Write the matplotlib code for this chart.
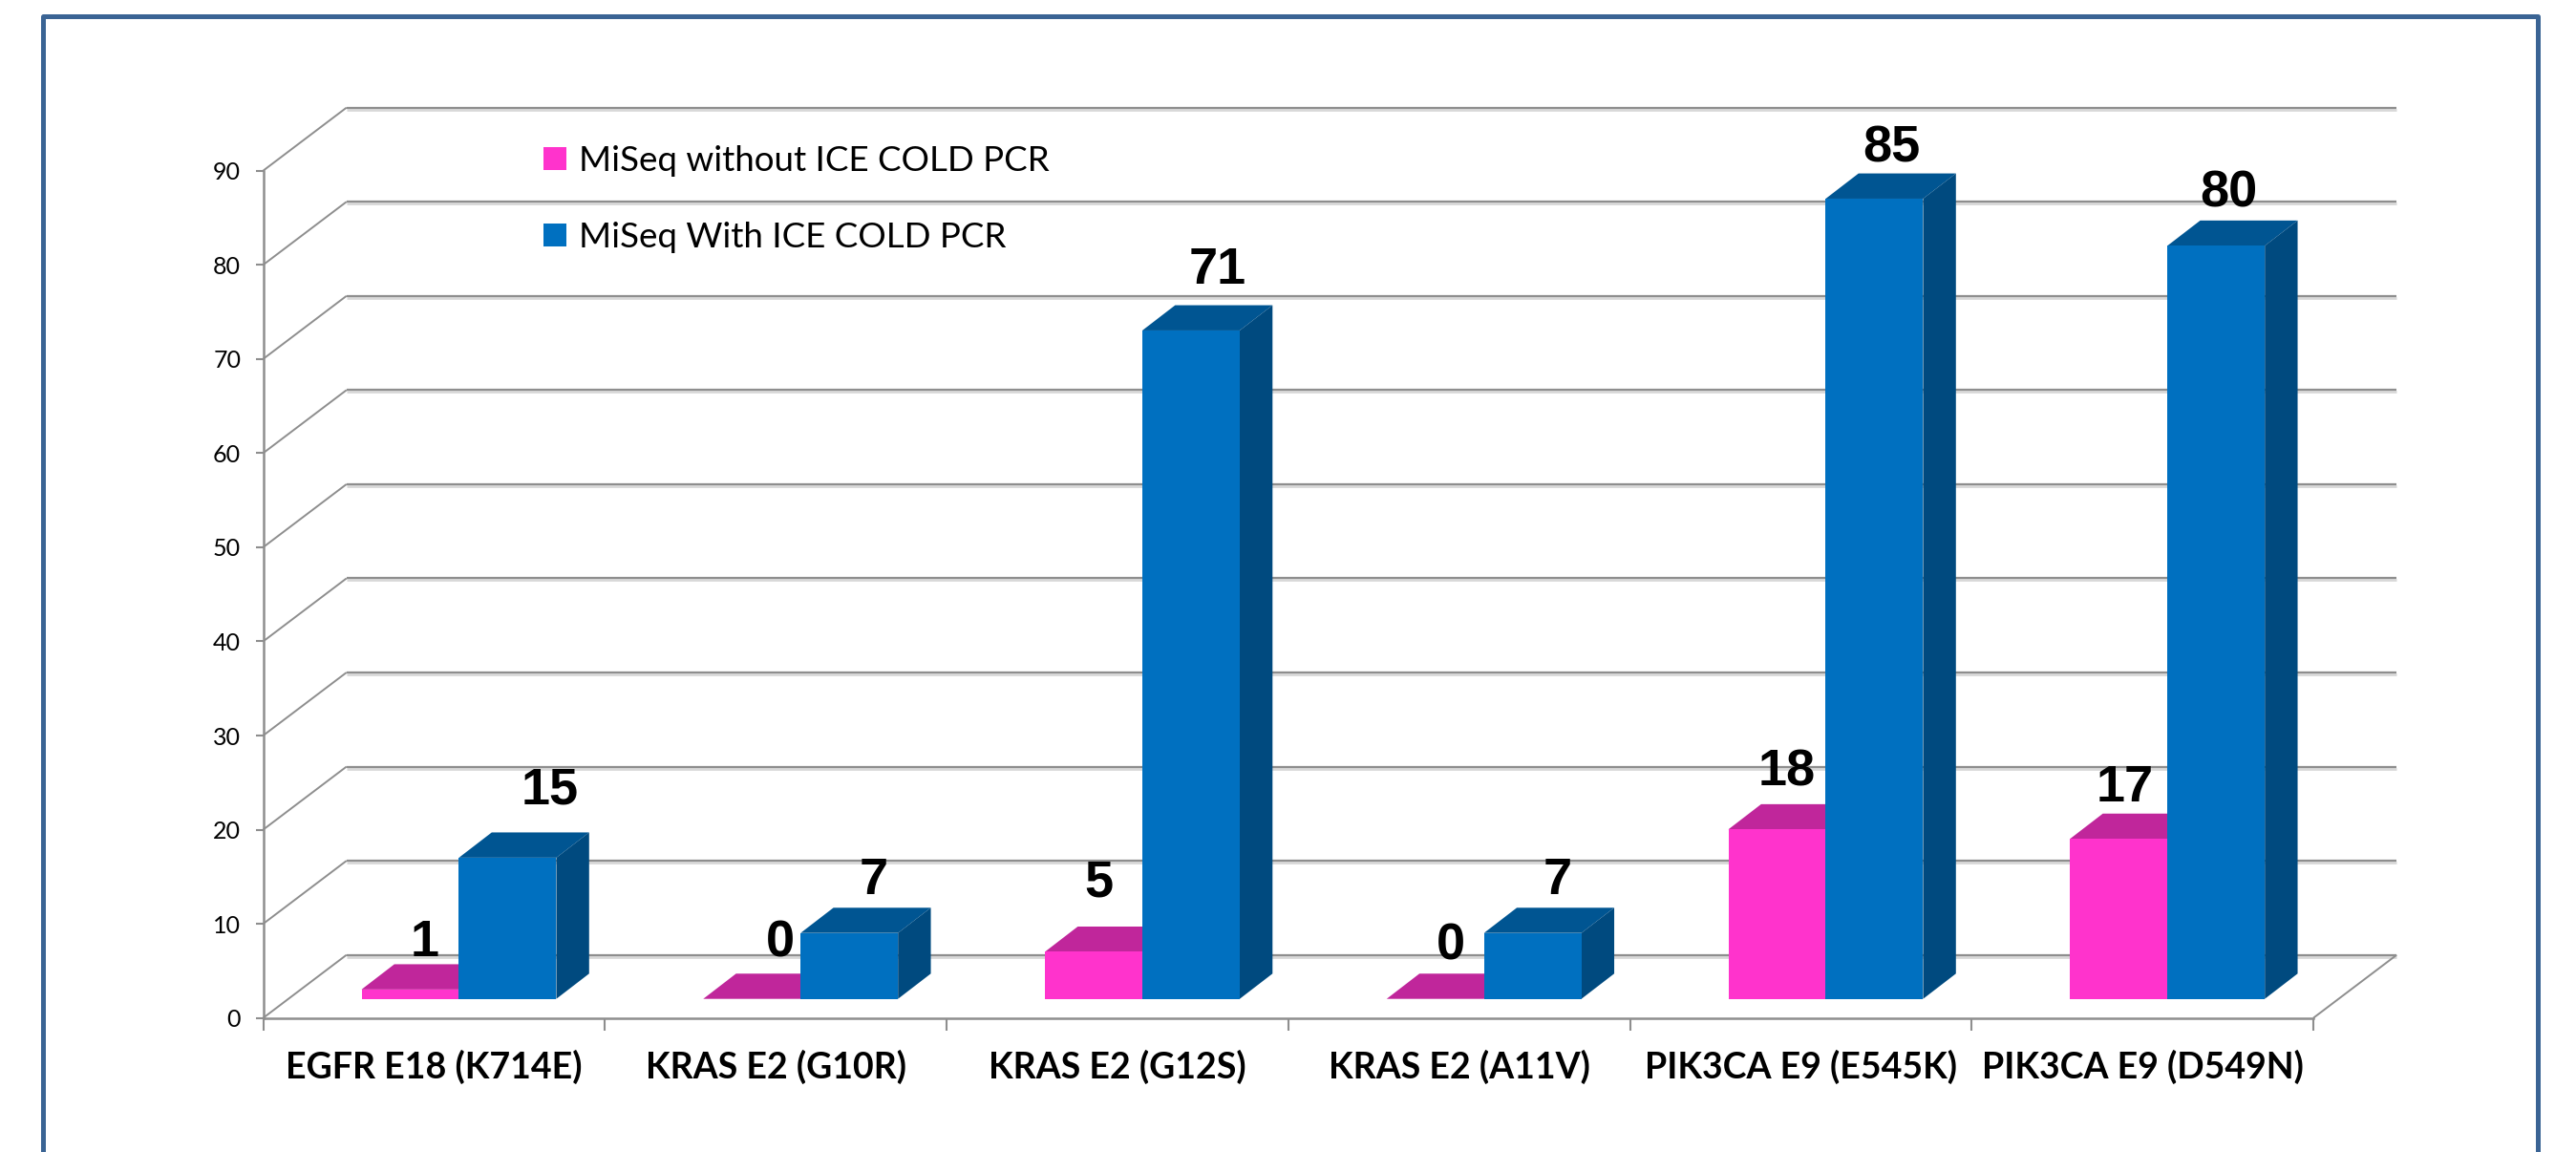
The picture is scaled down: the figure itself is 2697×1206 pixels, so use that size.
#!/usr/bin/env python
# -*- coding: utf-8 -*-
import matplotlib
matplotlib.use('Agg')
import matplotlib.pyplot as plt
from matplotlib.lines import Line2D
from matplotlib.patches import Patch

plt.rcParams['font.family'] = ['Lato', 'DejaVu Sans']

categories = ['EGFR E18 (K714E)', 'KRAS E2 (G10R)', 'KRAS E2 (G12S)',
              'KRAS E2 (A11V)', 'PIK3CA E9 (E545K)', 'PIK3CA E9 (D549N)']
without_ice = [1, 0, 5, 0, 18, 17]
with_ice = [15, 7, 71, 7, 85, 80]
y_ticks = [0, 10, 20, 30, 40, 50, 60, 70, 80, 90]

# hand placed data labels, pixels away from the default spot
without_nudge = [(-2, -6), (13, 4), (-12, 18), (-1, 1), (-7, 5), (-11, -1)]
with_nudge = [(27, 16), (8, 0), (11, 9), (9, 0), (1, -2), (-4, 0)]

# fake 3D geometry, x in category units and y in axis units
wall_dx, wall_dy = 0.244, 6.70
depth_dx, depth_dy = 0.096, 2.68
bar_start, bar_w = 0.288, 0.285
base = 2.03

grid_col = '#8e8e8e'
pink = ('#ff33cc', '#c0269b', '#a01f82')
blue = ('#0070c0', '#005592', '#004a7f')

W, H = 2697, 1206
fig = plt.figure(figsize=(W / 100, H / 100), dpi=100)
ax = fig.add_axes([275.5 / W, (H - 1065.7) / H, 2146.5 / W, 887 / H])
ax.set_xlim(0, len(categories))
ax.set_ylim(0, 90)
ax.patch.set_visible(False)


def line(xs, ys, lw=1.6, color=grid_col, z=1):
    ax.plot(xs, ys, color=color, lw=lw, clip_on=False, zorder=z, solid_capstyle='butt')


# back wall grid with the diagonals running down to the axis
n = len(categories)
for v in y_ticks:
    line([wall_dx, n + wall_dx], [v + wall_dy - 0.2] * 2, lw=2.0, color='#d8d8d8', z=0.5)
    line([wall_dx, n + wall_dx], [v + wall_dy] * 2)
    line([0, wall_dx], [v, v + wall_dy], lw=1.4)
line([n, n + wall_dx], [0, wall_dy], lw=1.4)


def bar3d(x, v, cols, z):
    y0, y1 = base, base + v
    ax.fill([x, x + bar_w, x + bar_w + depth_dx, x + depth_dx],
            [y1, y1, y1 + depth_dy, y1 + depth_dy], color=cols[1], lw=0, clip_on=False, zorder=z)
    ax.fill([x + bar_w, x + bar_w + depth_dx, x + bar_w + depth_dx, x + bar_w],
            [y0, y0 + depth_dy, y1 + depth_dy, y1], color=cols[2], lw=0, clip_on=False, zorder=z)
    ax.fill([x, x + bar_w, x + bar_w, x],
            [y0, y0, y1, y1], color=cols[0], lw=0, clip_on=False, zorder=z)


def value_label(x, v, nudge):
    ax.annotate(str(v), (x + bar_w / 2 + depth_dx / 2, base + v + depth_dy + 14 / 9.855),
                xytext=nudge, textcoords='offset pixels', ha='center', va='baseline',
                family='Liberation Sans', fontweight='bold', fontsize=39,
                color='black', zorder=10, annotation_clip=False)


for i in range(n):
    x_pink = i + bar_start
    x_blue = x_pink + bar_w
    bar3d(x_pink, without_ice[i], pink, 3 + i)
    bar3d(x_blue, with_ice[i], blue, 3.5 + i)
    value_label(x_pink, without_ice[i], without_nudge[i])
    value_label(x_blue, with_ice[i], with_nudge[i])

# axes
for s in ['top', 'right']:
    ax.spines[s].set_visible(False)
for s in ['left', 'bottom']:
    ax.spines[s].set_color(grid_col)
    ax.spines[s].set_linewidth(1.8)
ax.set_yticks(y_ticks)
ax.tick_params(axis='y', length=5.8, width=1.5, color=grid_col, pad=11, labelsize=18)
ax.set_xticks(range(n + 1))
ax.set_xticklabels([])
ax.set_xticks([i + 0.5 for i in range(n)], minor=True)
ax.set_xticklabels(categories, minor=True, fontweight='bold', fontsize=27)
ax.tick_params(axis='x', which='major', length=9.4, width=1.5, color=grid_col)
ax.tick_params(axis='x', which='minor', length=0, pad=24)

handles = [Patch(color=pink[0], lw=0), Patch(color=blue[0], lw=0)]
ax.legend(handles, ['MiSeq without ICE COLD PCR', 'MiSeq With ICE COLD PCR'],
          loc='upper left', bbox_to_anchor=(569 / W, 1 - 152 / H), bbox_transform=fig.transFigure,
          frameon=False, fontsize=26.5, handlelength=0.65, handleheight=0.65,
          handletextpad=0.35, labelspacing=1.27, borderpad=0, borderaxespad=0)

# slide border, open at the bottom edge
fx = [45 / W, 45 / W, 2657 / W, 2657 / W]
fy = [0, 1 - 17 / H, 1 - 17 / H, 0]
fig.add_artist(Line2D(fx, fy, color='#3a6494', lw=3.6, transform=fig.transFigure,
                      solid_joinstyle='round'))

fig.savefig('out.png', dpi=100)
plt.close()
